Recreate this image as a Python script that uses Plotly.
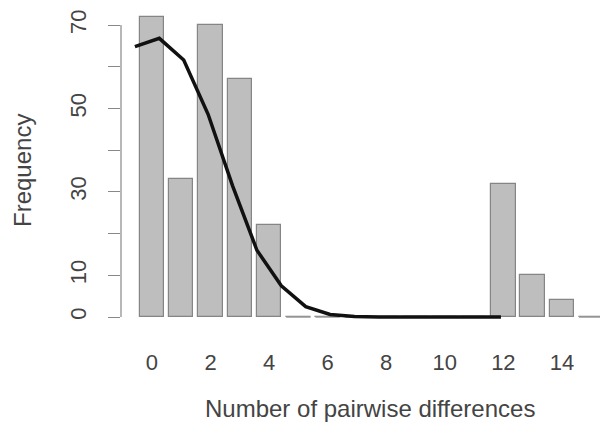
import plotly.graph_objects as go

# Data
diffs = list(range(16))
observed = [72, 33, 70, 57, 22, 0, 0, 0, 0, 0, 0, 0, 32, 10, 4, 0]
expected = [64.8, 66.8, 61.6, 48.6, 31.5, 16.0, 7.5, 2.5, 0.6, 0.1, 0, 0, 0, 0, 0, 0]
x_ticks_shown = [0, 2, 4, 6, 8, 10, 12, 14]
y_tickvals = [0, 10, 20, 30, 40, 50, 60, 70]
y_ticktext = ["0", "10", "", "30", "", "50", "", "70"]

# R barplot geometry: width 1, space 0.2
bar_pos = [0.7 + 1.2 * i for i in diffs]
line_x = diffs  # expected curve drawn in raw user coordinates (as in R lines())

FONT = "Liberation Sans"
TXT = "#444444"

fig = go.Figure()
fig.add_trace(go.Bar(
    x=bar_pos, y=observed, width=1.0,
    marker=dict(color="#bebebe", line=dict(color="#858585", width=1.2)),
    showlegend=False, hoverinfo="skip",
))
# zero-height bars appear as flat gray segments
for p, v in zip(bar_pos, observed):
    if v == 0:
        fig.add_trace(go.Scatter(x=[p - 0.5, p + 0.5], y=[0, 0], mode="lines",
                                 line=dict(color="#9a9a9a", width=1.5),
                                 showlegend=False, hoverinfo="skip"))
fig.add_trace(go.Scatter(
    x=line_x, y=expected, mode="lines",
    line=dict(color="#111111", width=3.5),
    showlegend=False, hoverinfo="skip",
))

fig.update_layout(
    width=600, height=435,
    margin=dict(l=121, r=0, t=10, b=105),
    paper_bgcolor="white", plot_bgcolor="white",
    font=dict(family=FONT, size=22, color=TXT),
    bargap=0,
    xaxis=dict(
        range=[-0.57, 19.06], showgrid=False, zeroline=False, showline=False,
        tickmode="array",
        tickvals=[bar_pos[i] for i in x_ticks_shown],
        ticktext=[str(i) for i in x_ticks_shown],
        ticks="", ticklabelstandoff=17,
        tickfont=dict(family=FONT, size=22, color=TXT),
    ),
    yaxis=dict(
        range=[-3.117, 73.6], showgrid=False, zeroline=False, showline=False,
        tickmode="array", tickvals=y_tickvals, ticktext=y_ticktext,
        ticks="outside", ticklen=12, tickwidth=1.2, tickcolor="#888888",
        tickangle=-90, ticklabelstandoff=13,
        tickfont=dict(family=FONT, size=22, color=TXT),
    ),
    shapes=[dict(type="line", xref="paper", yref="y", x0=0, x1=0, y0=0, y1=70,
                 line=dict(color="#888888", width=1.2))],
    annotations=[
        dict(text="Frequency", xref="paper", yref="paper", x=-0.2067, y=0.5,
             textangle=-90, showarrow=False, xanchor="center", yanchor="middle",
             font=dict(family=FONT, size=24, color=TXT)),
        dict(text="Number of pairwise differences", xref="paper", yref="paper",
             x=0.52, y=-0.244, showarrow=False, xanchor="center", yanchor="middle",
             font=dict(family=FONT, size=24, color=TXT)),
    ],
)

fig.write_html("out.html")
